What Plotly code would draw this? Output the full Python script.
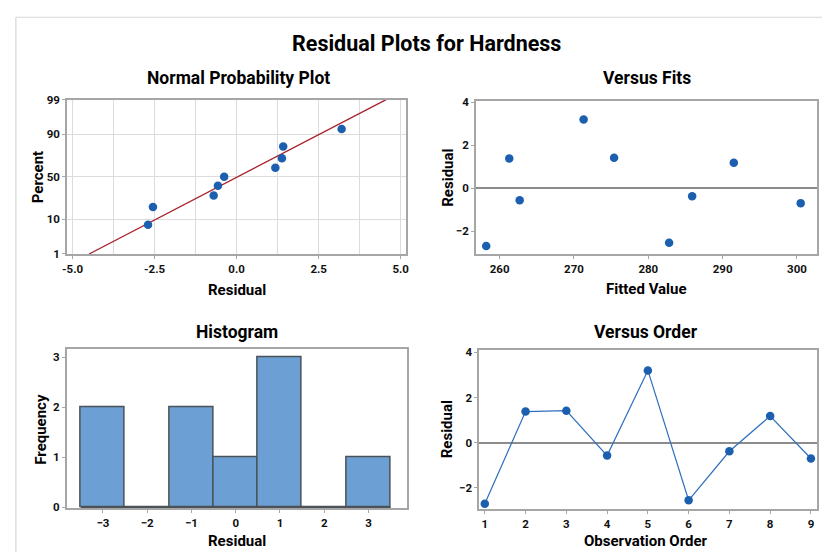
import numpy as np
import plotly.graph_objects as go
from statistics import NormalDist

# Residuals and fitted values, listed in observation order
observation = [1, 2, 3, 4, 5, 6, 7, 8, 9]
residuals = [-2.70, 1.38, 1.42, -0.57, 3.20, -2.55, -0.38, 1.18, -0.70]
fitted = [258.2, 261.3, 275.4, 262.7, 271.3, 282.8, 285.9, 291.5, 300.5]

# Probability-axis ticks (percent)
prob_ticks = [1, 10, 50, 90, 99]
hist_centers = [-3, -2, -1, 0, 1, 2, 3]

W, H = 826, 559
FONT = "Roboto"
BLUE = "#1b5fae"
FRAME = "#a6a6a6"
GRID = "#dcdcdc"

nd = NormalDist()
n = len(residuals)
res_sorted = sorted(residuals)
pct = [(i - 0.3) / (n + 0.4) for i in range(1, n + 1)]
z_pts = [nd.inv_cdf(p) for p in pct]
mu = float(np.mean(residuals))
sd = float(np.std(residuals, ddof=1))
z_lo, z_hi = nd.inv_cdf(0.01), nd.inv_cdf(0.99)


def xd(a, b):
    return [a / W, b / W]


def yd(top, bottom):
    return [1 - bottom / H, 1 - top / H]


fig = go.Figure()

# Normal probability plot
fig.add_trace(go.Scatter(x=[mu + sd * z_lo, mu + sd * z_hi], y=[z_lo, z_hi],
                         mode="lines", line=dict(color="#a8232b", width=1.3),
                         xaxis="x", yaxis="y", hoverinfo="skip"))
fig.add_trace(go.Scatter(x=res_sorted, y=z_pts, mode="markers",
                         marker=dict(color=BLUE, size=8.5),
                         xaxis="x", yaxis="y"))

# Versus fits
fig.add_trace(go.Scatter(x=fitted, y=residuals, mode="markers",
                         marker=dict(color=BLUE, size=8.5),
                         xaxis="x2", yaxis="y2"))

# Histogram of residuals
edges = np.array(hist_centers + [hist_centers[-1] + 1], dtype=float) - 0.5
counts, _ = np.histogram(residuals, bins=edges)
fig.add_trace(go.Scatter(x=[edges[0], edges[-1]], y=[0, 0], mode="lines",
                         line=dict(color="#4a5257", width=1.5),
                         xaxis="x3", yaxis="y3", hoverinfo="skip"))
fig.add_trace(go.Bar(x=hist_centers, y=counts, width=1.0,
                     marker=dict(color="#6c9fd3", line=dict(color="#4a5257", width=1.5)),
                     xaxis="x3", yaxis="y3"))

# Versus order
fig.add_trace(go.Scatter(x=observation, y=residuals, mode="lines+markers",
                         line=dict(color="#2f6fbd", width=1.2),
                         marker=dict(color=BLUE, size=8.5),
                         xaxis="x4", yaxis="y4"))

tickfont = dict(family=FONT, size=11.5, color="#111111", weight="bold")
base = dict(showline=True, mirror=True, linecolor=FRAME, linewidth=1.5,
            ticks="outside", ticklen=3, tickcolor=FRAME, tickfont=tickfont,
            showgrid=False, zeroline=False)

fig.update_layout(
    width=W, height=H, margin=dict(l=0, r=0, t=0, b=0),
    paper_bgcolor="white", plot_bgcolor="white", showlegend=False,
    bargap=0,
    xaxis=dict(base, domain=xd(62.7, 405), anchor="y", range=[-5.17, 5.15],
               tickvals=[-5, -2.5, 0, 2.5, 5], ticktext=["-5.0", "-2.5", "0.0", "2.5", "5.0"],
               showgrid=True, gridcolor=GRID, gridwidth=1,
               minor=dict(tickvals=[-3.75, -1.25, 1.25, 3.75], showgrid=True,
                          gridcolor=GRID, ticks="")),
    yaxis=dict(base, domain=yd(95, 253.3), anchor="x", range=[z_lo, z_hi],
               tickvals=[nd.inv_cdf(p / 100) for p in prob_ticks],
               ticktext=[str(p) for p in prob_ticks],
               showgrid=True, gridcolor=GRID, gridwidth=1),
    xaxis2=dict(base, domain=xd(476, 821), anchor="y2", range=[256.8, 302.7],
                tickvals=[260, 270, 280, 290, 300]),
    yaxis2=dict(base, domain=yd(96, 253.3), anchor="x2", range=[-3.07, 4.08],
                tickvals=[-2, 0, 2, 4], zeroline=True, zerolinecolor="#8c8c8c",
                zerolinewidth=1.5),
    xaxis3=dict(base, domain=xd(62.3, 406), anchor="y3", range=[-3.82, 3.86],
                tickvals=hist_centers),
    yaxis3=dict(base, domain=yd(351, 514), anchor="x3", range=[-0.02, 3.16],
                tickvals=[0, 1, 2, 3]),
    xaxis4=dict(base, domain=xd(479.3, 821), anchor="y4", range=[0.86, 9.15],
                tickvals=observation),
    yaxis4=dict(base, domain=yd(351.7, 515), anchor="x4", range=[-2.94, 4.11],
                tickvals=[-2, 0, 2, 4], zeroline=True, zerolinecolor="#8c8c8c",
                zerolinewidth=1.5),
)


def label(text, x, y, size, angle=0):
    fig.add_annotation(text=text, x=x / W, y=1 - y / H, xref="paper", yref="paper",
                       showarrow=False, textangle=angle, xanchor="center", yanchor="middle",
                       font=dict(family=FONT, size=size, color="#000000", weight="bold"))


label("Residual Plots for Hardness", 426, 37, 21.5)
label("Normal Probability Plot", 236, 73, 17.5)
label("Versus Fits", 649, 73, 17.5)
label("Histogram", 235, 333, 17.5)
label("Versus Order", 648, 333, 17.5)

label("Residual", 235, 290, 15)
label("Percent", 33, 175, 15, -90)
label("Fitted Value", 649, 289, 15)
label("Residual", 447, 175, 15, -90)
label("Residual", 235, 548, 15)
label("Frequency", 37, 433, 15, -90)
label("Observation Order", 648, 548, 15)
label("Residual", 447, 433, 15, -90)

# Light outer frame along the top and left edges
fig.add_shape(type="line", xref="paper", yref="paper", x0=11 / W, x1=1,
              y0=1 - 10.5 / H, y1=1 - 10.5 / H, line=dict(color="#d6d6d6", width=1.2))
fig.add_shape(type="line", xref="paper", yref="paper", x0=11 / W, x1=11 / W,
              y0=0, y1=1 - 10.5 / H, line=dict(color="#d6d6d6", width=1.2))

fig.write_html("out.html")
